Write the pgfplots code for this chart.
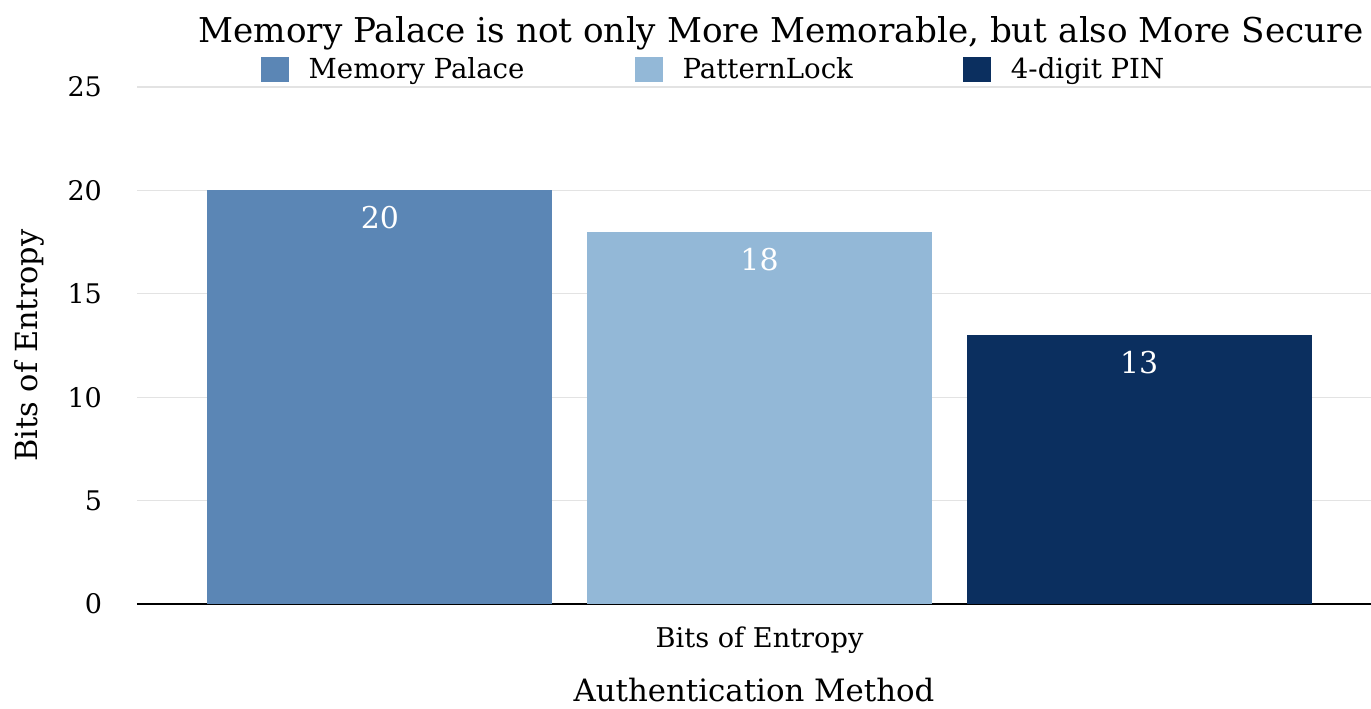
\documentclass[border=0pt]{standalone}
\usepackage{pgfplots}
\pgfplotsset{compat=1.18}
\usepackage{fontspec}
\setmainfont{DejaVu Serif}
\definecolor{cMP}{HTML}{5B86B5}
\definecolor{cPL}{HTML}{93B8D7}
\definecolor{cPIN}{HTML}{0B2F5F}
\definecolor{cGrid}{HTML}{E3E3E3}
\begin{document}
\begin{tikzpicture}
\useasboundingbox (0,0) rectangle (685.5pt,354pt);
\begin{axis}[
  at={(68.5pt,52pt)}, anchor=south west,
  scale only axis, width=617pt, height=258.5pt,
  xmin=0.36, xmax=3.611, ymin=0, ymax=25,
  axis line style={draw=none},
  major tick length=0pt,
  ytick={5,10,15,20,25},
  extra y ticks={0}, extra y tick labels={0},
  extra y tick style={grid style={black, line width=1.1pt}},
  ymajorgrids, grid style={cGrid, line width=0.6pt},
  /pgf/number format/assume math mode=true,
  yticklabel style={font=\fontsize{13.5}{16}\selectfont, anchor=east, xshift=-14pt},
  xtick={2}, xticklabels={Bits of Entropy},
  xticklabel style={font=\fontsize{13.6}{16}\selectfont, anchor=center, yshift=-18pt},
  xlabel={Authentication Method},
  xlabel style={font=\fontsize{15.4}{18}\selectfont, at={(axis description cs:0.5,0)}, anchor=center, yshift=-43pt},
  ylabel={Bits of Entropy},
  ylabel style={font=\fontsize{15.2}{18}\selectfont, at={(axis description cs:-0.087,0.5)}, anchor=center, rotate=0},
  ybar, bar width=172.5pt, bar shift=0pt,
  nodes near coords,
  every node near coord/.append style={font=\fontsize{15}{18}\selectfont, text=white, anchor=north, yshift=-4.5pt},
  legend columns=3,
  legend style={draw=none, fill=none, at={(axis description cs:0.468,1.033)}, anchor=center,
    font=\fontsize{13.8}{16}\selectfont,
    /tikz/every odd column/.append style={column sep=8pt},
    /tikz/every even column/.append style={column sep=53pt}},
  legend image code/.code={\fill[#1] (0pt,-6.25pt) rectangle (14pt,6.25pt);},
]
\addplot[fill=cMP, draw=none] coordinates {(1,20)};
\addplot[fill=cPL, draw=none] coordinates {(2,18)};
\addplot[fill=cPIN, draw=none] coordinates {(3,13)};
\legend{Memory Palace, PatternLock, 4-digit PIN}
\end{axis}
\node[font=\fontsize{17.1}{20}\selectfont] at (390.5pt,337.5pt) {Memory Palace is not only More Memorable, but also More Secure};
\end{tikzpicture}
\end{document}
